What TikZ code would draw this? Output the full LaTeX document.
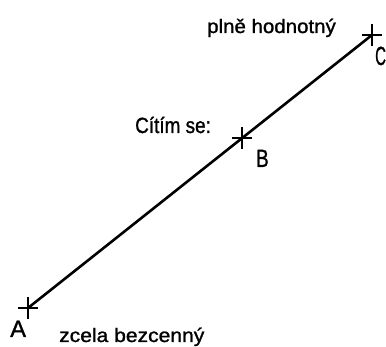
\documentclass[tikz,border=0pt]{standalone}
\usepackage{fontspec}
\setmainfont{Liberation Sans}
\newfontfamily\heavy[FakeBold=1.2]{Liberation Sans}
\usepackage{graphicx}
\begin{document}
\begin{tikzpicture}[x=1pt,y=-1pt,
  lbl/.style={inner sep=0pt, anchor=base west, font=\heavy\fontsize{19.5}{23}\selectfont},
  ptlbl/.style={inner sep=0pt, anchor=base west, font=\heavy\fontsize{25}{30}\selectfont},
  crossmark/.style={line width=1.9pt},
  axisline/.style={line width=2.6pt}]
\useasboundingbox (0,0) rectangle (386,347);
\coordinate (A) at (28,308);
\coordinate (B) at (242,138);
\coordinate (C) at (372,35);
\draw[axisline] (A) -- (C);
\foreach \p in {A,B,C}{
  \draw[crossmark] ([xshift=-10pt]\p) -- ([xshift=10pt]\p);
  \draw[crossmark] ([yshift=-11pt]\p) -- ([yshift=11pt]\p);
}
\node[ptlbl] (lA) at (10,337) {\scalebox{0.95}[0.95]{A}};
\node[ptlbl] (lB) at (256,167) {\scalebox{0.75}[1]{B}};
\node[ptlbl] (lC) at (375,65) {\scalebox{0.6}[1.05]{C}};
\node[lbl] (top) at (207,33) {\scalebox{1.05}[1]{plně hodnotný}};
\node[lbl, font=\heavy\fontsize{22}{26}\selectfont] (mid) at (135,133) {\scalebox{0.86}[1]{Cítím se:}};
\node[lbl] (bot) at (59,342) {\scalebox{1.08}[1]{zcela bezcenný}};
\end{tikzpicture}
\end{document}
